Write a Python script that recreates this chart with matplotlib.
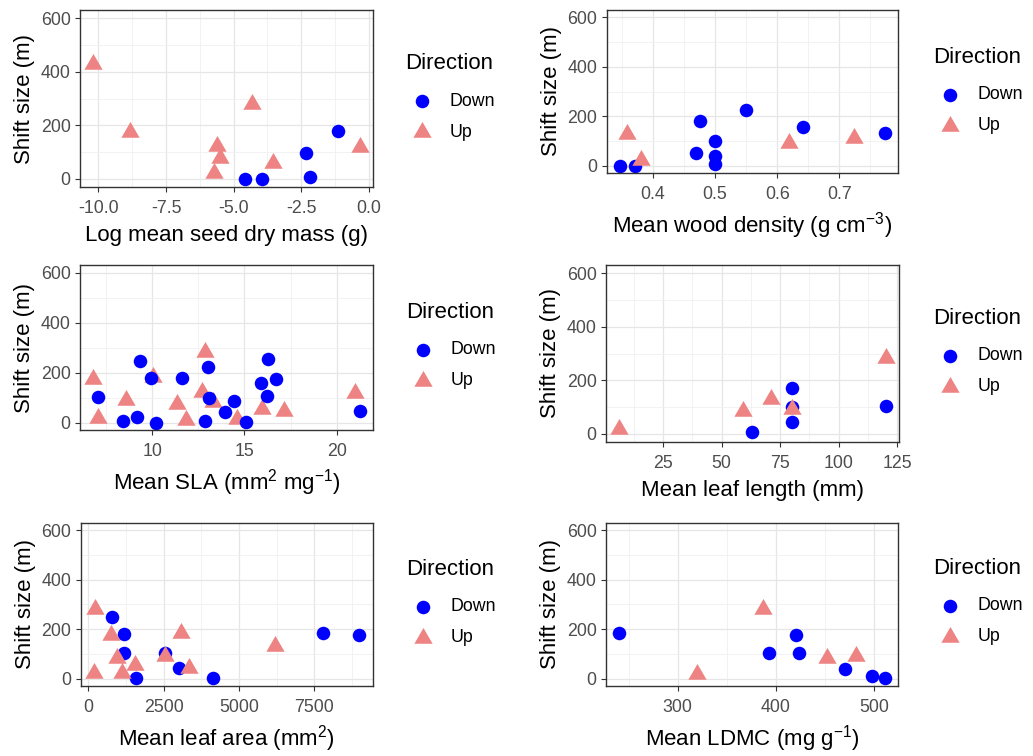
import matplotlib
matplotlib.use("Agg")
import matplotlib.pyplot as plt
from matplotlib.path import Path
import numpy as np

plt.rcParams['font.family'] = ['Liberation Sans', 'DejaVu Sans']
plt.rcParams['mathtext.fontset'] = 'custom'
plt.rcParams['mathtext.rm'] = 'Liberation Sans'
plt.rcParams['mathtext.it'] = 'Liberation Sans:italic'
plt.rcParams['mathtext.default'] = 'rm'

# ---------------- data ----------------
seed_down_x = [-4.57, -3.94, -2.34, -2.17, -1.14]
seed_down_y = [0, 0, 98, 6, 180]
seed_up_x = [-10.19, -8.82, -5.71, -5.61, -5.49, -4.32, -3.53, -0.34]
seed_up_y = [428, 176, 21, 123, 77, 278, 58, 118]

wood_down_x = [0.347, 0.371, 0.470, 0.476, 0.500, 0.500, 0.500, 0.550, 0.641, 0.773]
wood_down_y = [0, 0, 50, 181, 100, 39, 6, 225, 155, 131]
wood_up_x = [0.359, 0.381, 0.619, 0.724]
wood_up_y = [127, 22, 93, 113]

sla_down_x = [7.08, 8.44, 9.20, 9.35, 9.95, 10.20, 11.61, 12.84, 13.03, 13.06,
              13.93, 14.46, 15.09, 15.92, 16.23, 16.29, 16.72, 21.25]
sla_down_y = [104, 6, 23, 248, 178, 0, 178, 6, 222, 97, 43, 86, 2, 158, 106, 255, 174, 47]
sla_up_x = [6.81, 7.08, 8.57, 10.05, 11.34, 11.85, 12.70, 12.88, 13.30, 14.60, 15.96, 17.14, 20.98]
sla_up_y = [175, 18, 91, 182, 76, 10, 124, 283, 84, 14, 54, 47, 117]

len_down_x = [63.1, 80, 80, 80, 120]
len_down_y = [8, 173, 100, 43, 104]
len_up_x = [6.4, 59.3, 71, 80, 120]
len_up_y = [19, 84, 130, 94, 284]

area_down_x = [778, 1189, 1189, 1589, 2544, 3000, 4144, 7789, 9000]
area_down_y = [247, 180, 103, 3, 103, 42, 3, 184, 177]
area_up_x = [189, 211, 756, 944, 1122, 1544, 2544, 3067, 3356, 6189]
area_up_y = [23, 281, 177, 83, 24, 56, 93, 183, 44, 130]

ldmc_down_x = [240.5, 392.9, 420.7, 423.5, 470, 498, 511]
ldmc_down_y = [184, 103, 177, 103, 40, 9, 3]
ldmc_up_x = [319.4, 386.7, 452, 481]
ldmc_up_y = [19, 281, 84, 93]

y_ticks = [0, 200, 400, 600]
y_minor = [100, 300, 500]

seed_ticks = [-10, -7.5, -5, -2.5, 0]
seed_labels = ['-10.0', '-7.5', '-5.0', '-2.5', '0.0']
wood_ticks = [0.4, 0.5, 0.6, 0.7]
wood_labels = ['0.4', '0.5', '0.6', '0.7']
sla_ticks = [10, 15, 20]
sla_labels = ['10', '15', '20']
len_ticks = [25, 50, 75, 100, 125]
len_labels = ['25', '50', '75', '100', '125']
area_ticks = [0, 2500, 5000, 7500]
area_labels = ['0', '2500', '5000', '7500']
ldmc_ticks = [300, 400, 500]
ldmc_labels = ['300', '400', '500']

# ---------------- style ----------------
W, H = 1033, 756
DOWN_COL = '#0000FF'
UP_COL = '#EE8383'
S_CIRCLE = 95
S_TRI = 230
TRI = Path([(0, 1.5551), (1.3468, -0.7776), (-1.3468, -0.7776), (0, 1.5551)],
           [Path.MOVETO, Path.LINETO, Path.LINETO, Path.CLOSEPOLY])
TICK_FS = 12.8
TITLE_FS = 16
LABSP = 0.8

fig = plt.figure(figsize=(W / 100, H / 100), dpi=100)
fig.patch.set_facecolor('white')


def add_ax(l, t, r, b):
    return fig.add_axes([l / W, 1 - b / H, (r - l) / W, (b - t) / H])


def minor_breaks(ticks, lo, hi):
    b = list(ticks)
    d = b[1] - b[0]
    if lo < b[0]:
        b = [b[0] - d] + b
    if hi > b[-1]:
        b = b + [b[-1] + d]
    mids = [(b[i] + b[i + 1]) / 2 for i in range(len(b) - 1)]
    return [m for m in mids if lo <= m <= hi]


panels = [
    dict(box=(80, 10, 373, 187), dx=seed_down_x, dy=seed_down_y, ux=seed_up_x, uy=seed_up_y,
         ticks=seed_ticks, labels=seed_labels, xlabel='Log mean seed dry mass (g)',
         leg=(405, 61.5), up_top=True),
    dict(box=(606.7, 10, 898, 173), dx=wood_down_x, dy=wood_down_y, ux=wood_up_x, uy=wood_up_y,
         ticks=wood_ticks, labels=wood_labels, xlabel='Mean wood density (g cm$^{-3}$)',
         leg=(933, 55), up_top=True),
    dict(box=(80, 265, 373, 430), dx=sla_down_x, dy=sla_down_y, ux=sla_up_x, uy=sla_up_y,
         ticks=sla_ticks, labels=sla_labels, xlabel='Mean SLA (mm$^{2}$ mg$^{-1}$)',
         leg=(406, 310), up_top=False),
    dict(box=(606, 265, 899, 442), dx=len_down_x, dy=len_down_y, ux=len_up_x, uy=len_up_y,
         ticks=len_ticks, labels=len_labels, xlabel='Mean leaf length (mm)',
         leg=(933, 316), up_top=True),
    dict(box=(80.7, 522.7, 372.7, 686), dx=area_down_x, dy=area_down_y, ux=area_up_x, uy=area_up_y,
         ticks=area_ticks, labels=area_labels, xlabel='Mean leaf area (mm$^{2}$)',
         leg=(406, 567), up_top=True),
    dict(box=(606, 522.7, 898.3, 686), dx=ldmc_down_x, dy=ldmc_down_y, ux=ldmc_up_x, uy=ldmc_up_y,
         ticks=ldmc_ticks, labels=ldmc_labels, xlabel='Mean LDMC (mg g$^{-1}$)',
         leg=(933, 566), up_top=True),
]

for p in panels:
    ax = add_ax(*p['box'])
    allx = np.array(p['dx'] + p['ux'], dtype=float)
    lo, hi = allx.min(), allx.max()
    r = hi - lo
    xlo, xhi = lo - 0.05 * r, hi + 0.05 * r

    zd, zu = (3, 4) if p['up_top'] else (4, 3)
    hd = ax.scatter(p['dx'], p['dy'], s=S_CIRCLE, marker='o', color=DOWN_COL,
                    linewidths=0, zorder=zd, label='Down')
    hu = ax.scatter(p['ux'], p['uy'], s=S_TRI, marker=TRI, color=UP_COL,
                    linewidths=0, zorder=zu, label='Up')

    ax.set_xticks(p['ticks'], labels=p['labels'])
    ax.set_xticks(minor_breaks(p['ticks'], xlo, xhi), minor=True)
    ax.set_yticks(y_ticks, labels=[str(v) for v in y_ticks])
    ax.set_yticks(y_minor, minor=True)
    ax.set_xlim(xlo, xhi)
    ax.set_ylim(-30, 630)

    ax.set_facecolor('white')
    for sp in ax.spines.values():
        sp.set_color('#333333')
        sp.set_linewidth(1.0)
        sp.set_zorder(5)
    ax.grid(which='major', color='#E6E6E6', lw=0.9)
    ax.grid(which='minor', color='#F0F0F0', lw=0.6)
    ax.set_axisbelow(True)
    ax.tick_params(which='major', length=3.6, width=0.8, color='#333333',
                   labelsize=TICK_FS, labelcolor='#4D4D4D', pad=3.2)
    ax.tick_params(axis='x', which='major', pad=6.1)
    ax.tick_params(which='minor', length=0)

    ax.set_xlabel(p['xlabel'], fontsize=TITLE_FS, color='black', labelpad=5.1)
    ax.set_ylabel('Shift size (m)', fontsize=TITLE_FS, color='black', labelpad=4)

    lx, ly = p['leg']
    leg = ax.legend(handles=[hd, hu], labels=['Down', 'Up'], title='Direction',
                    loc='upper left', bbox_to_anchor=(lx / W, 1 - (ly - 8.3) / H),
                    bbox_transform=fig.transFigure, frameon=False, borderpad=0,
                    borderaxespad=0, handlelength=1.95, handletextpad=0.55,
                    labelspacing=LABSP, fontsize=TICK_FS, title_fontsize=TITLE_FS,
                    alignment='left', scatterpoints=1)
    try:
        leg._legend_box.sep = LABSP * TICK_FS + 3.1
    except AttributeError:
        pass

fig.savefig('out.png', dpi=100, facecolor='white')
